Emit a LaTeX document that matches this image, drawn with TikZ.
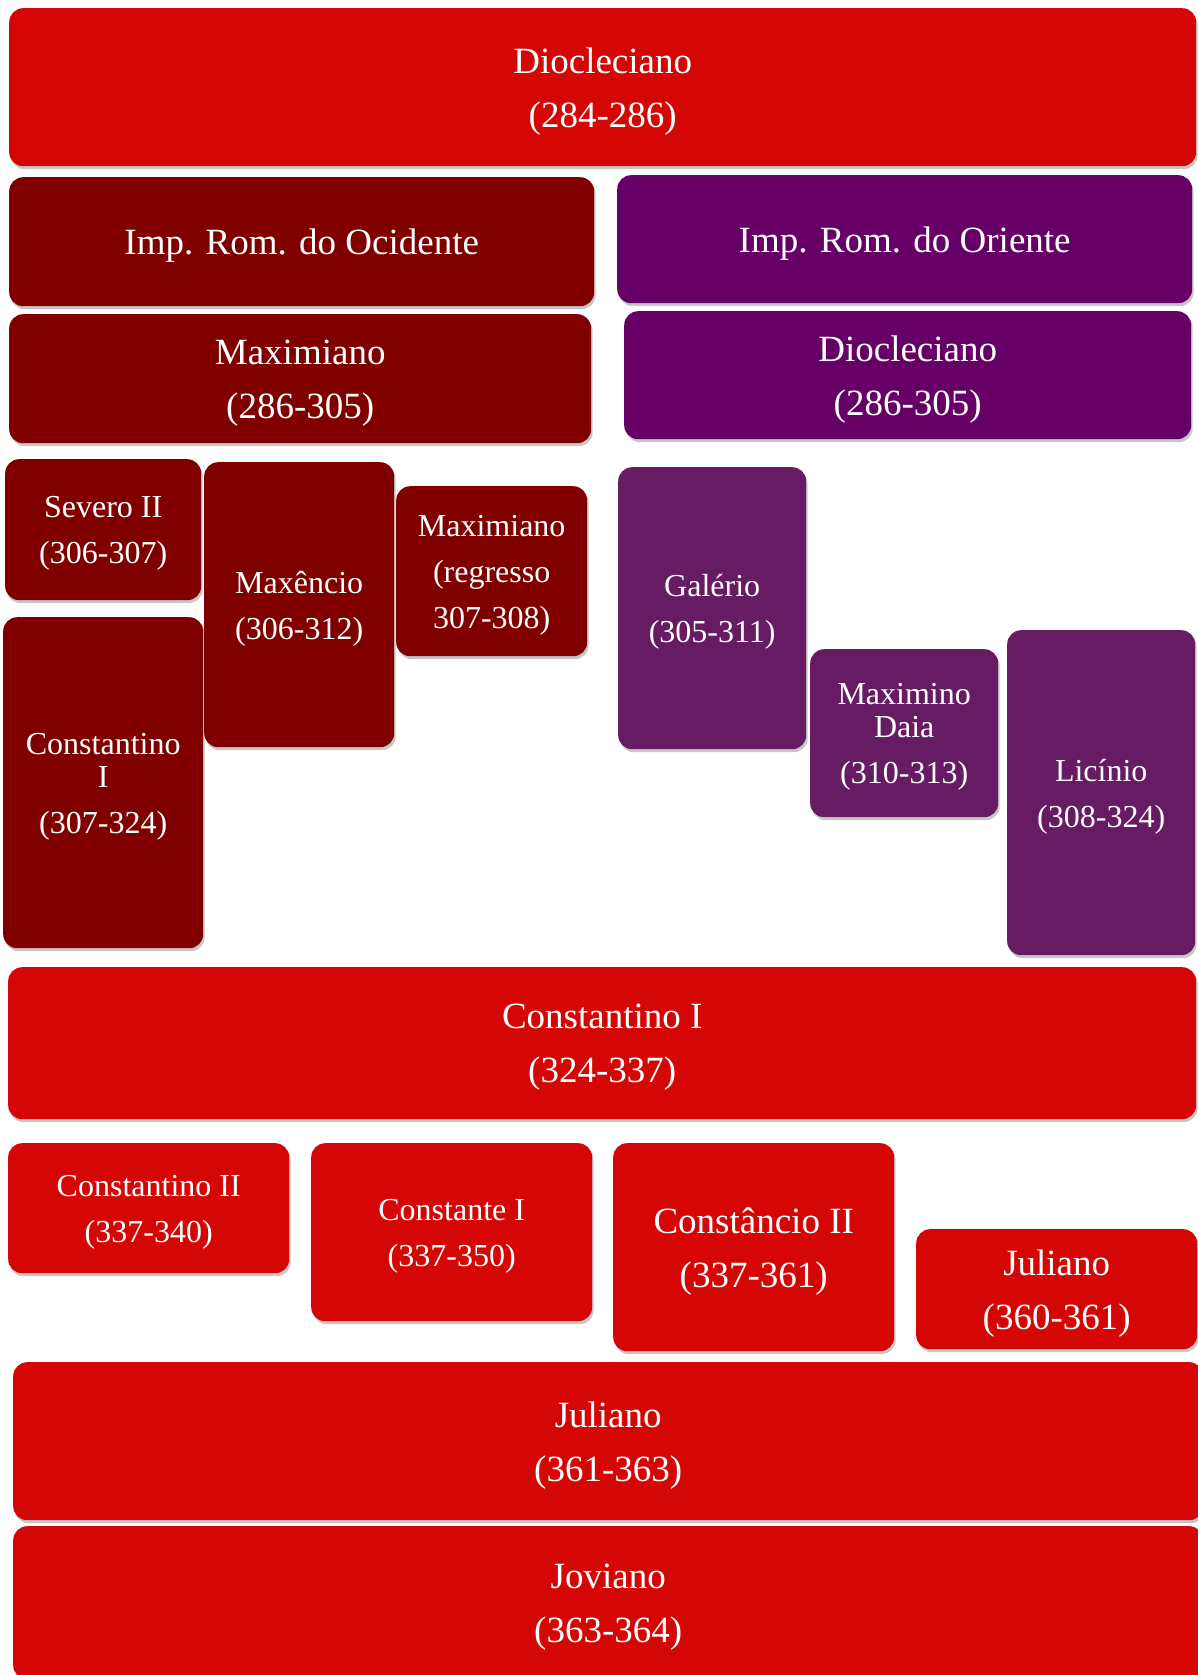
\documentclass[tikz,border=0pt]{standalone}
\usepackage{fontspec}
\setmainfont{Liberation Serif}
\usetikzlibrary{shadows}
\definecolor{cred}{RGB}{213,6,6}
\definecolor{cdark}{RGB}{128,0,0}
\definecolor{cpurp}{RGB}{102,0,102}
\definecolor{clpurp}{RGB}{102,27,98}
\tikzset{
  box/.style={rounded corners=14pt, draw=none, inner sep=0pt, anchor=north west,
    drop shadow={shadow xshift=1.5pt, shadow yshift=-3pt, opacity=0.22, fill=black}},
  txt/.style={text=white, align=center, inner sep=0pt},
  big/.style={txt, font=\fontsize{37}{54}\selectfont},
  sml/.style={txt, font=\fontsize{32}{46}\selectfont},
}
% #1 name, #2 colour, #3 width, #4 height, #5 top-left, #6 text style, #7 text
\newcommand\mybox[7]{%
  \node[box,fill=#2,minimum width=#3,minimum height=#4] (#1) at (#5) {};
  \node[#6] (#1-t) at ([yshift=-4pt]#1.center) {#7};}
\begin{document}
\begin{tikzpicture}[x=1pt,y=-1pt]
\fill[white] (0,0) rectangle (1197,1675);
\useasboundingbox (0,0) rectangle (1197,1675);
% top
\mybox{dio1}{cred}{1187}{158}{9,8}{big}{Diocleciano\\(284-286)}
% west / east headers
\mybox{occ}{cdark}{585}{129}{9,177}{big}{Imp. Rom. do Ocidente}
\mybox{ori}{cpurp}{575}{128}{617,175}{big}{Imp. Rom. do Oriente}
\mybox{maxi}{cdark}{582}{129}{9,314}{big}{Maximiano\\(286-305)}
\mybox{dio2}{cpurp}{567}{128}{624,311}{big}{Diocleciano\\(286-305)}
% west rulers
\mybox{sev}{cdark}{196}{141}{5,459}{sml}{Severo II\\(306-307)}
\mybox{maxe}{cdark}{190}{285}{204,462}{sml}{Maxêncio\\(306-312)}
\mybox{maxr}{cdark}{191}{170}{396,486}{sml}{Maximiano\\(regresso\\307-308)}
\mybox{con1}{cdark}{200}{331}{3,617}{sml}{Constantino\\[-13pt]I\\(307-324)}
% east rulers
\mybox{gal}{clpurp}{188}{282}{618,467}{sml}{Galério\\(305-311)}
\mybox{daia}{clpurp}{188}{168}{810,649}{sml}{Maximino\\[-13pt]Daia\\(310-313)}
\mybox{lic}{clpurp}{188}{325}{1007,630}{sml}{Licínio\\(308-324)}
% Constantino I
\mybox{con2}{cred}{1188}{152}{8,967}{big}{Constantino I\\(324-337)}
% sons
\mybox{cII}{cred}{281}{130}{8,1143}{sml}{Constantino II\\(337-340)}
\mybox{cte}{cred}{281}{178}{311,1143}{sml}{Constante I\\(337-350)}
\mybox{cio}{cred}{281}{208}{613,1143}{big}{Constâncio II\\(337-361)}
\mybox{jul1}{cred}{281}{120}{916,1229}{big}{Juliano\\(360-361)}
% bottom
\mybox{jul2}{cred}{1190}{158}{13,1362}{big}{Juliano\\(361-363)}
\mybox{jov}{cred}{1190}{153}{13,1526}{big}{Joviano\\(363-364)}
\end{tikzpicture}
\end{document}
